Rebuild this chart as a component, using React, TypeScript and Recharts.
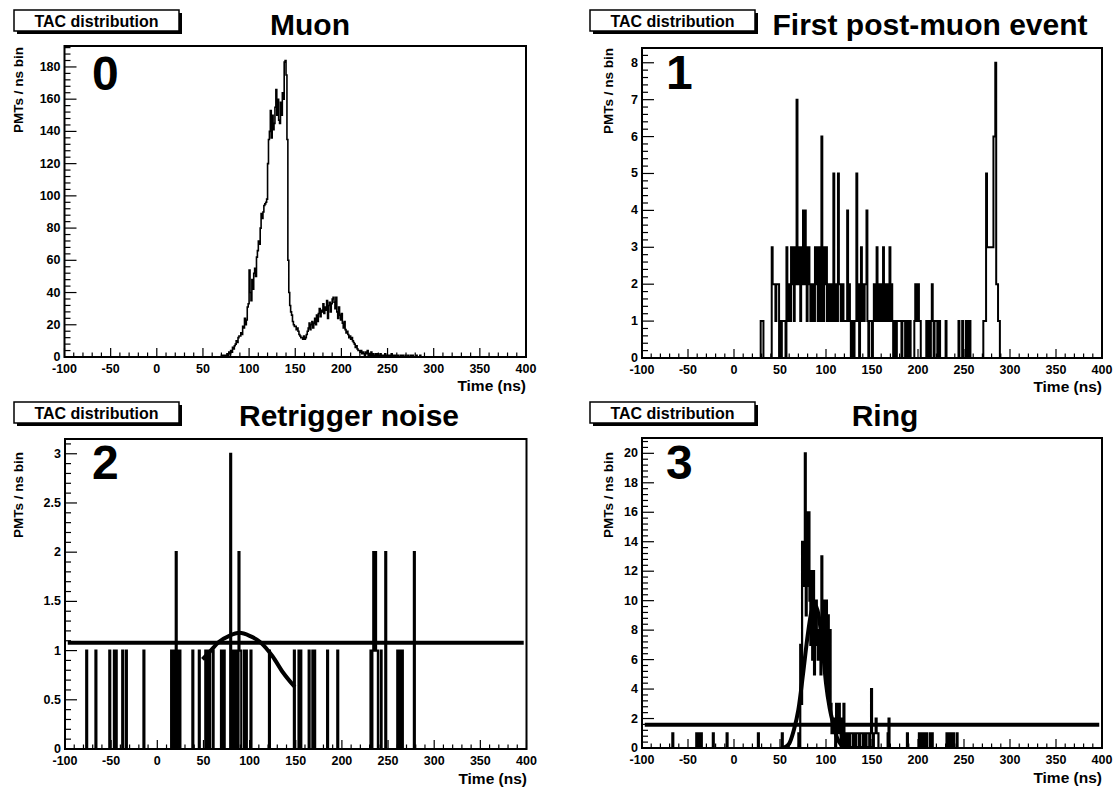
import React from 'react';
import { LineChart, Line, XAxis, YAxis, ReferenceArea } from 'recharts';

const FONT = '"Liberation Sans", Arial, Helvetica, sans-serif';

// ---------- data (1 ns bins, counts per bin) ----------
const MUON_START = 68;
const MUON_COUNTS = [
  0, 0,
  1, 0, 1, 0, 1, 1, 2, 1, 3, 2,
  4, 3, 6, 5, 7, 8, 10, 9, 12, 13,
  13, 15, 14, 19, 18, 24, 20, 23, 31, 33,
  54, 40, 35, 48, 42, 52, 55, 50, 62, 66,
  72, 70, 80, 89, 86, 90, 94, 95, 96, 98,
  120, 135, 140, 153, 136, 150, 141, 145, 155, 166,
  150, 160, 147, 145, 158, 150, 164, 160, 183, 184,
  175, 135, 60, 40, 32, 28, 26, 22, 20, 19,
  19, 17, 18, 16, 14, 13, 12, 12, 11, 13,
  11, 12, 14, 16, 18, 21, 17, 20, 22, 18,
  21, 24, 20, 26, 22, 27, 30, 25, 29, 28,
  33, 27, 31, 29, 35, 24, 32, 34, 28, 33,
  36, 37, 34, 30, 37, 28, 24, 31, 26, 23,
  27, 21, 18, 22, 17, 15, 16, 14, 12, 13,
  11, 12, 10, 9, 8, 6, 7, 5, 4, 4,
  3, 4, 2, 3, 2, 1, 3, 2, 4, 1,
  2, 1, 3, 1, 2, 0, 1, 2, 1, 2,
  1, 0, 2, 1, 0, 1, 1, 2, 0, 1,
  1, 0, 1, 0, 2, 1, 0, 1, 1, 0,
  0, 1, 0, 0, 1, 0, 1, 0, 0, 1,
  0, 0, 1, 0, 0, 1, 0, 1, 0, 0,
  0, 1, 0, 0, 0, 1, 0, 0, 0, 0,
];

const POST_START = 28;
const POST_COUNTS = [
  0, 1, 1, 1, 0, 0, 0, 0, 0, 0, 0, 0,
  0, 3, 2, 2, 2, 1, 2, 2, 2, 0,
  1, 0, 1, 1, 1, 1, 0, 3, 2, 1,
  2, 1, 3, 2, 3, 1, 3, 2, 7, 3,
  2, 3, 1, 2, 3, 4, 2, 4, 3, 1,
  3, 3, 2, 1, 2, 1, 2, 1, 3, 2,
  3, 1, 3, 2, 1, 6, 3, 1, 3, 2,
  3, 1, 2, 2, 1, 1, 2, 1, 5, 2,
  1, 2, 1, 5, 2, 2, 1, 2, 2, 1,
  1, 1, 1, 4, 1, 2, 1, 0, 1, 1,
  0, 1, 1, 5, 2, 1, 0, 2, 3, 1,
  2, 1, 2, 2, 4, 1, 0, 1, 1, 1,
  0, 1, 2, 1, 2, 3, 1, 2, 2, 1,
  2, 1, 3, 1, 2, 2, 1, 2, 1, 3,
  1, 2, 1, 0, 1, 1, 0, 1, 1, 1,
  1, 1, 0, 1, 1, 1, 0, 1, 1, 0,
  1, 1, 0, 0, 0, 0, 1, 2, 1, 2,
  2, 1, 1, 0, 0, 0, 0, 0, 0, 1,
  0, 0, 1, 0, 1, 2, 1, 0, 1, 1,
  1, 0, 1, 1, 0, 0, 0, 0, 0, 0,
  1, 0, 0, 0, 0, 0, 0, 0, 0, 0,
  0, 0, 0, 0, 1, 0, 0, 0, 1, 0,
  0, 0, 1, 1, 0, 0, 1, 0, 0, 0,
  0, 0, 0, 0, 0, 0, 0, 0, 0, 0,
  0, 1, 1, 1, 5, 3, 3, 3, 3, 3,
  3, 3, 6, 6, 8, 2, 2, 1, 1, 0,
];

const NOISE_BINS = [
  -77, -67, -52, -47, -45, -38, -34, -15, 15, 18, 20, 22, 24, 38, 45, 52, 54, 56, 60,
  69, 70, 72, 79, 80, 83, 85, 88, 89, 90, 94, 96, 101, 121, 148, 153, 155, 164, 168,
  170, 184, 195, 231, 233, 234, 235, 236, 237, 238, 242, 247, 260, 262, 265, 278,
];
const NOISE_COUNTS = [
  1, 1, 1, 1, 1, 1, 1, 1, 1, 1, 2, 1, 1, 1, 1, 1, 1, 1, 1,
  1, 1, 1, 3, 1, 1, 1, 2, 1, 1, 1, 1, 1, 1, 1, 1, 1, 1, 1,
  1, 1, 1, 1, 1, 2, 1, 2, 1, 1, 1, 2, 1, 1, 1, 2,
];

const RING_START = 60;
const RING_COUNTS = [
  0, 0, 0, 0, 0, 0, 0, 0, 0, 0,
  1, 0, 7, 3, 14, 11, 14, 20, 9, 16,
  11, 16, 10, 7, 12, 6, 12, 5, 9, 10,
  7, 6, 8, 7, 5, 13, 6, 9, 10, 5,
  10, 4, 9, 3, 8, 3, 1, 2, 1, 2,
  0, 3, 1, 2, 3, 1, 0, 2, 0, 3,
  1, 0, 0, 1, 1, 0, 1, 1, 1, 0,
  1, 1, 0, 1, 1, 1, 0, 1, 1, 1,
  0, 1, 1, 0, 1, 1, 1, 0, 1, 4,
  1, 0, 1, 1, 2, 1, 1, 0, 0, 0,
  0, 0, 0, 0, 0, 0, 0, 1, 2, 0,
];
const RING_EXTRA_BINS = [-67, -41, -39, -36, -23, -8, 26, 52, 188, 201, 203, 205, 208, 209, 213, 215, 231, 233, 236, 238, 242];
const RING_EXTRA_COUNTS = [1, 1, 1, 1, 1, 1, 1, 1, 1, 1, 1, 1, 1, 1, 1, 1, 1, 1, 1, 1, 1];

// fitted curves
const NOISE_FLAT_X = [-97, 397];
const NOISE_FLAT_Y = [1.08, 1.08];
const NOISE_PEAK_X = [49, 57, 67, 78, 89, 100, 111, 125, 136, 149];
const NOISE_PEAK_Y = [0.91, 0.99, 1.09, 1.15, 1.18, 1.15, 1.09, 0.94, 0.78, 0.63];
const RING_FLAT_X = [-97, 397];
const RING_FLAT_Y = [1.58, 1.58];
const RING_PEAK_X = [51, 55, 60, 65, 70, 75, 80, 84, 88, 92, 96, 100, 104, 108, 112, 116, 120, 126, 150];
const RING_PEAK_Y = [0, 0.05, 0.3, 1.2, 2.6, 5, 7.6, 9.2, 9.7, 9.0, 7.0, 4.4, 2.7, 1.6, 0.7, 0.25, 0.08, 0, 0];

const X_MIN = -100;
const X_MAX = 400;
const X_MAJOR_STEP = 50;
const X_MINOR_STEP = 10;

// ---------- helpers ----------
function buildHist(start: number, counts: number[], extraBins: number[] = [], extraCounts: number[] = []) {
  const map = new Map<number, number>();
  counts.forEach((c, i) => map.set(start + i, c));
  extraBins.forEach((b, i) => map.set(b, extraCounts[i]));
  const rows: { x: number; v: number }[] = [];
  for (let b = X_MIN; b < X_MAX; b++) rows.push({ x: b, v: map.get(b) ?? 0 });
  rows.push({ x: X_MAX, v: map.get(X_MAX - 1) ?? 0 });
  return rows;
}
function pairs(xs: number[], ys: number[]) {
  return xs.map((x, i) => ({ x, y: ys[i] }));
}
function steps(start: number, end: number, step: number) {
  const n = Math.floor((end - start) / step + 1e-6);
  return Array.from({ length: n + 1 }, (_, i) => +(start + i * step).toFixed(4));
}
function isMultiple(v: number, step: number) {
  const r = v / step;
  return Math.abs(r - Math.round(r)) < 1e-6;
}
function fmt(v: number) {
  return String(parseFloat(v.toFixed(3)));
}

const makeXTick = () => (props: any) => {
  const { x, y, payload } = props;
  const v = payload.value;
  const major = isMultiple(v, X_MAJOR_STEP);
  return (
    <g>
      <line x1={x} x2={x} y1={y} y2={y - (major ? 9 : 4.5)} stroke="#000" strokeWidth={1.2} />
      {major && (
        <text x={x} y={y + 16} textAnchor="middle" fontFamily={FONT} fontWeight="bold" fontSize={12.5} fill="#000">
          {fmt(v)}
        </text>
      )}
    </g>
  );
};
const makeYTick = (majorStep: number) => (props: any) => {
  const { x, y, payload } = props;
  const v = payload.value;
  const major = isMultiple(v, majorStep);
  return (
    <g>
      <line x1={x} x2={x + (major ? 12 : 6)} y1={y} y2={y} stroke="#000" strokeWidth={1.2} />
      {major && (
        <text x={x - 4} y={y + 4} textAnchor="end" fontFamily={FONT} fontWeight="bold" fontSize={12.5} fill="#000">
          {fmt(v)}
        </text>
      )}
    </g>
  );
};

type PanelProps = {
  left: number;
  top: number;
  width: number;
  height: number;
  box: { l: number; r: number; t: number; b: number };
  yMax: number;
  yMajor: number;
  yMinor: number;
  hist: { x: number; v: number }[];
  histWidth: number;
  fits: { x: number; y: number }[][];
};

function Panel({ left, top, width, height, box, yMax, yMajor, yMinor, hist, histWidth, fits }: PanelProps) {
  const yAxisW = 40;
  const xAxisH = 30;
  const margin = {
    top: box.t,
    left: box.l - yAxisW,
    right: width - box.r,
    bottom: height - box.b - xAxisH,
  };
  const xTicks = steps(X_MIN, X_MAX, X_MINOR_STEP);
  const yTicks = steps(0, yMax, yMinor);
  return (
    <div style={{ position: 'absolute', left, top, width, height }}>
      <LineChart width={width} height={height} data={hist} margin={margin}>
        <XAxis
          type="number"
          dataKey="x"
          domain={[X_MIN, X_MAX]}
          ticks={xTicks}
          interval={0}
          tickSize={0}
          tickMargin={0}
          tickLine={false}
          axisLine={false}
          height={xAxisH}
          tick={makeXTick()}
          allowDataOverflow
        />
        <YAxis
          type="number"
          domain={[0, yMax]}
          ticks={yTicks}
          interval={0}
          tickSize={0}
          tickMargin={0}
          tickLine={false}
          axisLine={false}
          width={yAxisW}
          tick={makeYTick(yMajor)}
          allowDataOverflow
        />
        <Line
          type="stepAfter"
          dataKey="v"
          stroke="#000"
          strokeWidth={histWidth}
          dot={false}
          activeDot={false}
          isAnimationActive={false}
        />
        {fits.map((f, i) => (
          <Line
            key={i}
            data={f}
            type="monotone"
            dataKey="y"
            stroke="#000"
            strokeWidth={4}
            dot={false}
            activeDot={false}
            isAnimationActive={false}
          />
        ))}
        <ReferenceArea x1={X_MIN} x2={X_MAX} y1={0} y2={yMax} fill="none" stroke="#000" strokeWidth={2} />
      </LineChart>
    </div>
  );
}

function TacBox({ x, y }: { x: number; y: number }) {
  return (
    <g>
      <rect x={x + 3} y={y + 3} width={165} height={21} fill="#000" />
      <rect x={x} y={y} width={165} height={21} fill="#fff" stroke="#000" strokeWidth={1.5} />
      <text x={x + 82.5} y={y + 16.5} textAnchor="middle" fontFamily={FONT} fontWeight="bold" fontSize={16} fill="#000">
        TAC distribution
      </text>
    </g>
  );
}

function Overlay() {
  const bold = { fontFamily: FONT, fontWeight: 'bold' as const, fill: '#000' };
  const yTitle = (x: number, y: number) => (
    <text x={x} y={y} transform={`rotate(-90, ${x}, ${y})`} textAnchor="end" fontSize={13.5} {...bold}>
      PMTs / ns bin
    </text>
  );
  return (
    <svg width={1114} height={789} style={{ position: 'absolute', left: 0, top: 0, pointerEvents: 'none' }}>
      <TacBox x={14} y={10} />
      <TacBox x={590} y={10} />
      <TacBox x={14} y={402} />
      <TacBox x={590} y={402} />
      <text x={310} y={35} textAnchor="middle" fontSize={30} {...bold}>Muon</text>
      <text x={930} y={35} textAnchor="middle" fontSize={30} {...bold}>First post-muon event</text>
      <text x={349} y={426} textAnchor="middle" fontSize={30} {...bold}>Retrigger noise</text>
      <text x={885} y={426} textAnchor="middle" fontSize={30} {...bold}>Ring</text>
      <text x={92} y={90} fontSize={48} {...bold}>0</text>
      <text x={666} y={89} fontSize={48} {...bold}>1</text>
      <text x={92} y={479} fontSize={48} {...bold}>2</text>
      <text x={666} y={479} fontSize={48} {...bold}>3</text>
      {yTitle(23, 47)}
      {yTitle(613, 48)}
      {yTitle(23, 452)}
      {yTitle(613, 452)}
      <text x={526} y={391} textAnchor="end" fontSize={15.5} {...bold}>Time (ns)</text>
      <text x={1102} y={392} textAnchor="end" fontSize={15.5} {...bold}>Time (ns)</text>
      <text x={527} y={784} textAnchor="end" fontSize={15.5} {...bold}>Time (ns)</text>
      <text x={1102} y={783} textAnchor="end" fontSize={15.5} {...bold}>Time (ns)</text>
    </svg>
  );
}

export default function App() {
  const muon = buildHist(MUON_START, MUON_COUNTS);
  const post = buildHist(POST_START, POST_COUNTS);
  const noise = buildHist(0, [], NOISE_BINS, NOISE_COUNTS);
  const ring = buildHist(RING_START, RING_COUNTS, RING_EXTRA_BINS, RING_EXTRA_COUNTS);
  return (
    <div style={{ position: 'absolute', left: 0, top: 0, width: 1114, height: 789, background: '#fff', overflow: 'hidden' }}>
      <Panel left={0} top={0} width={557} height={394} box={{ l: 64.5, r: 526, t: 46, b: 357 }}
        yMax={193} yMajor={20} yMinor={4} hist={muon} histWidth={1.6} fits={[]} />
      <Panel left={557} top={0} width={557} height={394} box={{ l: 85, r: 545, t: 48, b: 358 }}
        yMax={8.4} yMajor={1} yMinor={0.2} hist={post} histWidth={2} fits={[]} />
      <Panel left={0} top={394} width={557} height={395} box={{ l: 65, r: 526.5, t: 45, b: 355 }}
        yMax={3.15} yMajor={0.5} yMinor={0.1} hist={noise} histWidth={2.2}
        fits={[pairs(NOISE_FLAT_X, NOISE_FLAT_Y), pairs(NOISE_PEAK_X, NOISE_PEAK_Y)]} />
      <Panel left={557} top={394} width={557} height={395} box={{ l: 85, r: 545, t: 44, b: 354 }}
        yMax={21.04} yMajor={2} yMinor={0.4} hist={ring} histWidth={2.2}
        fits={[pairs(RING_FLAT_X, RING_FLAT_Y), pairs(RING_PEAK_X, RING_PEAK_Y)]} />
      <Overlay />
    </div>
  );
}
